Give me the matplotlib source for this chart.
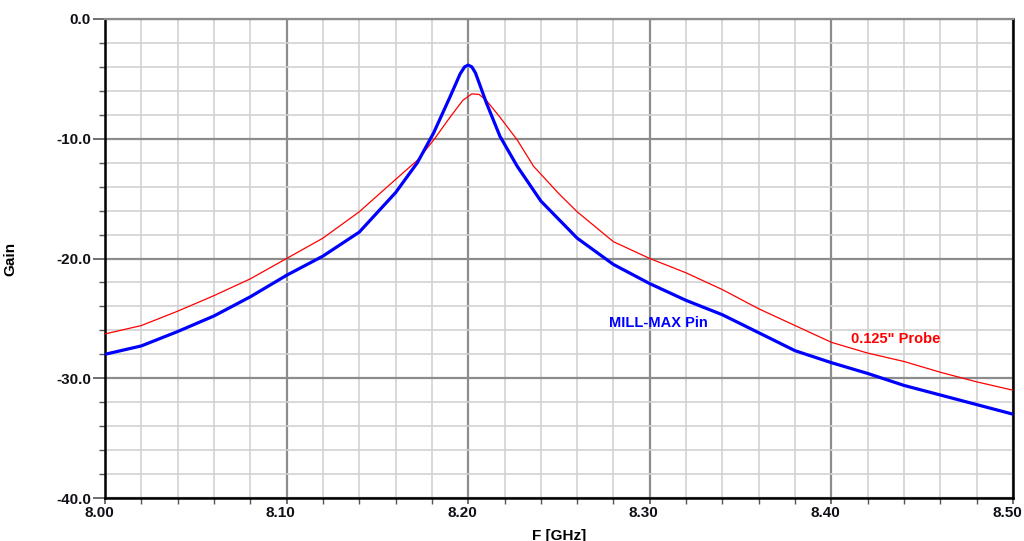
import numpy as np
import matplotlib
matplotlib.use("Agg")
import matplotlib.pyplot as plt
import matplotlib.transforms as mtransforms
from matplotlib.ticker import MultipleLocator, FormatStrFormatter

plt.rcParams['font.family'] = ['Liberation Sans', 'DejaVu Sans']
plt.rcParams['font.weight'] = 'bold'

# MILL-MAX Pin (blue, thick)
pin_f = [8.00, 8.02, 8.04, 8.06, 8.08, 8.10, 8.12, 8.14, 8.16, 8.172, 8.181,
         8.190, 8.1955, 8.198, 8.200, 8.202, 8.204, 8.210, 8.2175, 8.227, 8.24, 8.26, 8.28,
         8.30, 8.32, 8.34, 8.36, 8.38, 8.40, 8.42, 8.44, 8.46, 8.48, 8.50]
pin_gain = [-28.0, -27.3, -26.1, -24.8, -23.2, -21.4, -19.8, -17.8, -14.5, -12.0, -9.5,
            -6.5, -4.6, -4.0, -3.85, -4.0, -4.5, -7.0, -9.8, -12.3, -15.2, -18.3, -20.5,
            -22.1, -23.5, -24.7, -26.2, -27.7, -28.7, -29.6, -30.6, -31.4, -32.2, -33.0]

# 0.125" Probe (red, thin)
probe_f = [8.00, 8.02, 8.04, 8.06, 8.08, 8.10, 8.12, 8.14, 8.16, 8.172, 8.181,
           8.190, 8.197, 8.202, 8.206, 8.210, 8.2175, 8.227, 8.236, 8.25, 8.26,
           8.28, 8.30, 8.32, 8.34, 8.36, 8.38, 8.40, 8.42, 8.44, 8.46, 8.48, 8.50]
probe_gain = [-26.3, -25.6, -24.4, -23.1, -21.7, -20.0, -18.3, -16.1, -13.4, -11.8, -10.1,
              -8.2, -6.8, -6.25, -6.3, -6.8, -8.2, -10.1, -12.3, -14.6, -16.1,
              -18.6, -20.0, -21.2, -22.6, -24.2, -25.6, -27.0, -27.9, -28.6, -29.5, -30.3, -31.0]

fig = plt.figure(figsize=(10.24, 5.41), dpi=100)
ax = fig.add_axes([105 / 1024, 1 - 498 / 541, 908 / 1024, 479 / 541])

ax.set_xlim(8.0, 8.5)
ax.set_ylim(-40, 0)
ax.xaxis.set_major_locator(MultipleLocator(0.1))
ax.xaxis.set_minor_locator(MultipleLocator(0.02))
ax.yaxis.set_major_locator(MultipleLocator(10))
ax.yaxis.set_minor_locator(MultipleLocator(2))
ax.xaxis.set_major_formatter(FormatStrFormatter('%.2f'))
ax.yaxis.set_major_formatter(FormatStrFormatter('%.1f'))

ax.grid(which='major', color='#8c8c8c', lw=1.6, zorder=0)
ax.grid(which='minor', color='#d2d2d2', lw=1.2, zorder=0)
ax.set_axisbelow(True)

for side in ['left', 'bottom', 'right']:
    ax.spines[side].set_color('black')
    ax.spines[side].set_linewidth(1.8)
ax.spines['top'].set_color('#8c8c8c')
ax.spines['top'].set_linewidth(1.6)

ax.tick_params(axis='y', which='major', length=9, width=1.2, color='#555555', pad=1,
               labelsize=11, labelcolor='#101018')
ax.tick_params(axis='y', which='minor', length=4, width=1.0, color='#555555')
ax.tick_params(axis='x', which='major', length=4, width=1.2, color='#555555', pad=2,
               labelsize=11, labelcolor='#101018')
ax.tick_params(axis='x', which='minor', length=4, width=1.0, color='#555555')

# x tick labels sit a little left of their ticks in the original
shift = mtransforms.ScaledTranslation(-6 / 100, 0, fig.dpi_scale_trans)
for lab in ax.get_xticklabels():
    lab.set_transform(lab.get_transform() + shift)
for lab in ax.get_xticklabels() + ax.get_yticklabels():
    lab.set_fontweight('bold')

ax.plot(probe_f, probe_gain, color='#ff0000', lw=0.9, zorder=3)
ax.plot(pin_f, pin_gain, color='#0000ff', lw=2.3, zorder=4)

ax.text(8.2775, -25.4, 'MILL-MAX Pin', color='#0000ff', fontsize=10.5,
        fontweight='bold', va='center', ha='left', zorder=5)
ax.text(8.411, -26.7, '0.125" Probe', color='#ff0000', fontsize=10.5,
        fontweight='bold', va='center', ha='left', zorder=5)

ax.set_ylabel('Gain', fontsize=11, fontweight='bold')
ax.yaxis.set_label_coords(-0.097, 0.5)
ax.set_xlabel('F [GHz]', fontsize=11, fontweight='bold', va='top')
ax.xaxis.set_label_coords(0.5, -0.064)

fig.savefig('out.png', dpi=100)
